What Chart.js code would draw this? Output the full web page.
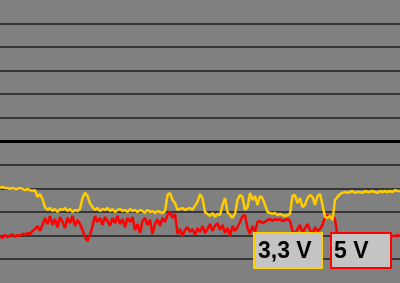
<!DOCTYPE html>
<html>
<head>
<meta charset="utf-8">
<script src="https://cdn.jsdelivr.net/npm/chart.js@4.4.1/dist/chart.umd.min.js"></script>
<style>
  html, body { margin: 0; padding: 0; background: #808080; }
  #wrap { width: 400px; height: 283px; }
</style>
</head>
<body>
<div id="wrap"><canvas id="voltChart" width="400" height="283"></canvas></div>
<script>
// one sample every 2.5 px of the original trace, values in grid units
var rail33 = [
    4.03, 4.07, 4.03, 4.03, 3.99, 4.03, 3.99, 3.99, 4.03, 3.99,
    3.94, 3.99, 3.94, 3.90, 3.94, 3.65, 3.77, 3.56, 3.22, 3.10,
    3.18, 3.05, 3.14, 3.01, 3.14, 3.10, 3.18, 3.05, 3.14, 3.01,
    3.10, 3.05, 3.14, 3.60, 3.82, 3.69, 3.39, 3.22, 3.10, 3.18,
    3.05, 3.14, 3.10, 3.18, 3.05, 3.14, 3.01, 3.10, 3.14, 3.05,
    3.10, 3.01, 3.14, 3.05, 3.10, 3.01, 3.10, 3.05, 2.97, 3.10,
    3.01, 3.05, 2.97, 3.05, 3.01, 2.97, 3.05, 3.73, 3.82, 3.52,
    3.39, 3.10, 3.14, 3.18, 3.10, 3.14, 3.18, 3.10, 3.27, 3.44,
    3.77, 3.60, 3.01, 2.93, 2.84, 2.97, 2.80, 2.93, 2.88, 3.31,
    3.60, 3.01, 2.88, 2.76, 2.93, 3.52, 3.73, 3.65, 3.10, 3.22,
    3.82, 3.52, 3.69, 3.31, 3.69, 3.60, 3.31, 3.01, 2.97, 2.93,
    2.97, 2.88, 2.93, 2.88, 2.84, 2.88, 2.93, 3.69, 3.73, 3.39,
    3.60, 3.22, 3.31, 3.60, 3.73, 3.65, 3.31, 3.69, 3.77, 3.31,
    2.80, 2.76, 2.84, 2.67, 3.52, 3.65, 3.77, 3.82, 3.86, 3.82,
    3.86, 3.90, 3.82, 3.86, 3.86, 3.82, 3.90, 3.86, 3.86, 3.90,
    3.86, 3.82, 3.90, 3.86, 3.90, 3.86, 3.90, 3.86, 3.94, 3.90,
    3.90
];

var rail5 = [
    1.99, 1.91, 2.04, 1.95, 1.99, 2.08, 1.95, 2.04, 1.99, 2.08,
    2.04, 2.12, 2.08, 2.21, 2.29, 2.42, 2.21, 2.46, 2.76, 2.50,
    2.84, 2.46, 2.71, 2.37, 2.80, 2.59, 2.33, 2.76, 2.54, 2.84,
    2.42, 2.67, 2.50, 2.25, 1.95, 1.78, 2.04, 2.42, 2.84, 2.59,
    2.76, 2.46, 2.80, 2.63, 2.42, 2.76, 2.54, 2.84, 2.50, 2.71,
    2.37, 2.76, 2.59, 2.80, 2.25, 2.50, 2.12, 2.63, 2.76, 2.46,
    2.67, 2.08, 2.50, 2.71, 2.42, 2.76, 2.59, 2.88, 3.01, 2.76,
    2.93, 2.08, 2.29, 1.99, 2.25, 2.37, 2.16, 2.29, 2.04, 2.33,
    2.16, 2.42, 2.12, 2.29, 2.50, 2.21, 2.42, 2.54, 2.25, 2.46,
    2.12, 2.33, 1.99, 2.42, 2.21, 2.37, 2.59, 2.84, 2.88, 2.33,
    2.08, 2.42, 2.16, 2.59, 2.63, 2.54, 2.59, 2.67, 2.71, 2.63,
    2.71, 2.67, 2.71, 2.63, 2.67, 2.71, 2.63, 2.21, 2.08, 2.29,
    2.46, 2.12, 2.33, 2.50, 2.25, 2.08, 2.37, 2.21, 2.29, 2.46,
    2.80, 2.88, 2.76, 2.84, 2.71, 1.99, 1.95, 1.99, 1.95, 1.99,
    1.95, 1.99, 1.95, 1.95, 1.99, 1.95, 1.99, 1.95, 1.99, 1.95,
    1.99, 1.95, 1.99, 1.95, 1.99, 1.99, 2.04, 1.99, 1.99, 2.04,
    1.99
];

var seriesNames = ['3,3 V', '5 V'];
var sampleLabels = rail33.map(function (v, i) { return i; });

// gray plot background
var backdrop = {
    id: 'backdrop',
    beforeDraw: function (chart) {
        var ctx = chart.ctx;
        ctx.save();
        ctx.fillStyle = '#808080';
        ctx.fillRect(0, 0, chart.width, chart.height);
        ctx.restore();
    }
};

// boxed labels in the lower right corner
var boxLegend = {
    id: 'boxLegend',
    afterDraw: function (chart) {
        var ctx = chart.ctx;
        var boxes = [{ x: 253, w: 70, pad: 5 }, { x: 330, w: 62, pad: 4 }];
        ctx.save();
        ctx.font = 'bold 23px "Liberation Sans", Arial, sans-serif';
        ctx.textBaseline = 'alphabetic';
        chart.data.datasets.forEach(function (ds, i) {
            var b = boxes[i];
            ctx.fillStyle = '#c4c4c4';
            ctx.fillRect(b.x, 232, b.w, 37);
            ctx.lineWidth = 2;
            ctx.strokeStyle = ds.borderColor;
            ctx.strokeRect(b.x + 1, 233, b.w - 2, 35);
            ctx.fillStyle = '#000000';
            ctx.fillText(ds.label, b.x + b.pad, 258);
        });
        ctx.restore();
    }
};

var voltChart = new Chart(document.getElementById('voltChart'), {
    type: 'line',
    data: {
        labels: sampleLabels,
        datasets: [
            {
                label: seriesNames[0],
                data: rail33,
                borderColor: '#ffcc00',
                borderWidth: 2.5,
                pointRadius: 0,
                tension: 0,
                borderJoinStyle: 'bevel'
            },
            {
                label: seriesNames[1],
                data: rail5,
                borderColor: '#ff0000',
                borderWidth: 2.5,
                pointRadius: 0,
                tension: 0,
                borderJoinStyle: 'bevel'
            }
        ]
    },
    options: {
        responsive: false,
        animation: false,
        layout: { padding: 0 },
        plugins: {
            legend: { display: false },
            tooltip: { enabled: false }
        },
        scales: {
            x: { display: false, offset: false },
            y: {
                min: 0,
                max: 12,
                ticks: { display: false, stepSize: 1 },
                border: { display: false },
                grid: {
                    drawTicks: false,
                    tickLength: 0,
                    color: function (c) {
                        var v = c.tick.value;
                        if (v === 0 || v === 12) return 'rgba(0,0,0,0)';
                        return v === 6 ? '#000000' : '#363636';
                    },
                    lineWidth: function (c) {
                        return c.tick.value === 6 ? 3 : 2;
                    }
                },
                afterFit: function (scale) { scale.width = 0; }
            }
        }
    },
    plugins: [backdrop, boxLegend]
});
</script>
</body>
</html>
